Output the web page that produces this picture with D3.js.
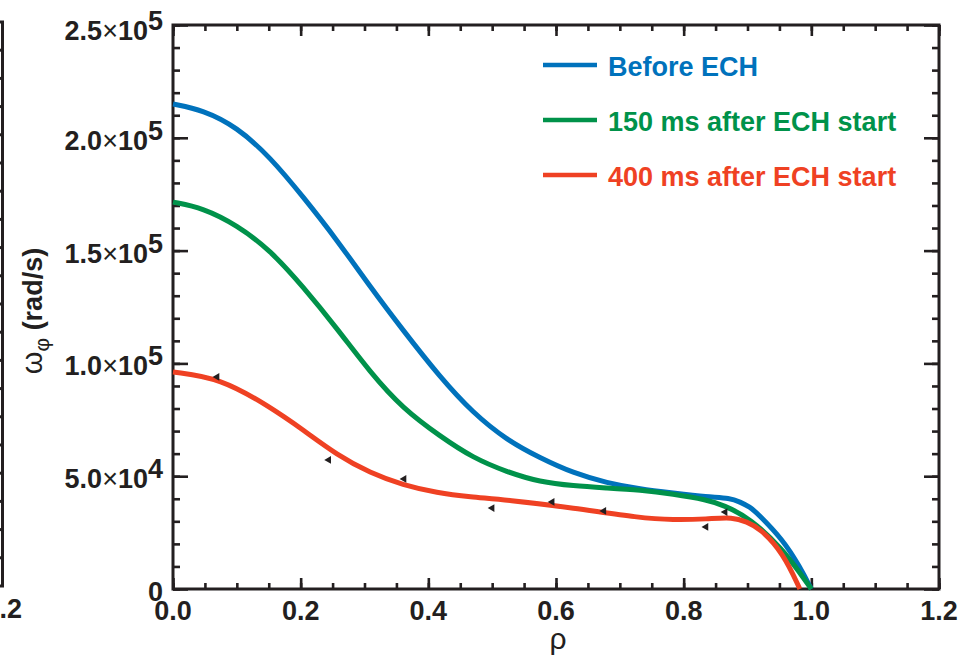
<!DOCTYPE html>
<html><head><meta charset="utf-8">
<script src="https://cdn.jsdelivr.net/npm/d3@7"></script>
<style>body{margin:0;background:#fff}svg{display:block}</style>
</head><body>
<svg id="c" width="973" height="659"></svg>
<script>
// ---- data (omega in units of 1e4 rad/s) ----
const rhoBlue   = [0,0.047,0.100,0.152,0.204,0.257,0.309,0.360,0.418,0.470,0.523,0.575,0.627,0.680,0.732,0.783,0.837,0.873,0.888,0.904,0.915,0.956,0.982,1.0];
const omegaBlue = [21.50,21.23,20.48,19.15,17.38,15.47,13.39,11.48,9.40,7.80,6.60,5.81,5.14,4.70,4.43,4.26,4.08,4.03,3.86,3.63,3.37,2.17,0.98,0];
const rhoGreen   = [0,0.047,0.100,0.152,0.204,0.257,0.309,0.360,0.418,0.470,0.523,0.575,0.627,0.680,0.732,0.783,0.837,0.862,0.904,0.956,0.982,1.0];
const omegaGreen = [17.15,16.89,16.13,15.03,13.39,11.55,9.60,8.00,6.78,5.81,5.19,4.74,4.57,4.48,4.39,4.21,3.95,3.72,3.15,1.73,0.71,0];
const rhoRed   = [0,0.074,0.152,0.204,0.257,0.309,0.360,0.414,0.465,0.523,0.627,0.732,0.783,0.837,0.877,0.899,0.919,0.956,0.982];
const omegaRed = [9.62,9.35,8.07,7.05,5.94,5.14,4.61,4.26,4.08,3.95,3.59,3.15,3.06,3.10,3.19,2.97,2.70,1.60,0];
const rhoMeas   = [0.069,0.244,0.362,0.500,0.594,0.675,0.835,0.865];
const omegaMeas = [9.40,5.72,4.88,3.59,3.86,3.46,2.75,3.41];

const seriesNames  = ["Before ECH","150 ms after ECH start","400 ms after ECH start"];
const seriesColors = ["#0072bc","#00924a","#ef4123"];

const xMajor = [0,0.2,0.4,0.6,0.8,1.0,1.2];
const xLabels = ["0.0","0.2","0.4","0.6","0.8","1.0","1.2"];
const yMajor = [0,5e4,1e5,1.5e5,2e5,2.5e5];
const yMant  = ["0","5.0","1.0","1.5","2.0","2.5"];
const yExp   = [null,"4","5","5","5","5"];

// ---- layout ----
const svg = d3.select("#c");
const FONT = "'Liberation Sans', Arial, Helvetica, sans-serif";
const INK = "#231f20";
const x = d3.scaleLinear().domain([0,1.2]).range([173,939]);
const y = d3.scaleLinear().domain([0,2.5e5]).range([589,25]);
const xMinor = d3.range(0,1.2001,0.05);
const yMinor = d3.range(0,2.5001e5,1e4);

// partial neighbouring panel at left edge
const yl = d3.scaleLinear().domain([0,20]).range([586,22]);
const lp = svg.append("g").attr("stroke",INK).attr("stroke-width",3);
lp.append("path").attr("fill","none").attr("d",`M-6,${yl(20)}H2.5V${yl(0)}H-6`);
lp.selectAll("line.t").data(d3.range(1,20)).join("line")
  .attr("x1",-6).attr("x2",2.5).attr("y1",d=>yl(d)).attr("y2",d=>yl(d));
svg.append("text").attr("x",22).attr("y",618).attr("text-anchor","end")
  .attr("font-family",FONT).attr("font-weight","bold").attr("font-size",27).attr("fill",INK).text("1.2");

// ticks (inward on all sides)
function ax(gen, vals, size, tr){
  const g = svg.append("g").attr("transform",tr)
    .call(gen.tickValues(vals).tickSize(size).tickFormat(""));
  g.select(".domain").remove();
  g.selectAll(".tick line").attr("stroke",INK).attr("stroke-width",2.6);
}
ax(d3.axisBottom(x), xMinor, -6, "translate(0,589)");
ax(d3.axisBottom(x), xMajor, -11, "translate(0,589)");
ax(d3.axisTop(x), xMinor, -6, "translate(0,25)");
ax(d3.axisTop(x), xMajor, -11, "translate(0,25)");
ax(d3.axisLeft(y), yMinor, -7, "translate(173,0)");
ax(d3.axisLeft(y), yMajor, -15, "translate(173,0)");
ax(d3.axisRight(y), yMinor, -7, "translate(939,0)");
ax(d3.axisRight(y), yMajor, -15, "translate(939,0)");

// frame
svg.append("rect").attr("x",173).attr("y",25).attr("width",939-173).attr("height",589-25)
  .attr("fill","none").attr("stroke",INK).attr("stroke-width",3);

// x tick labels
svg.append("g").selectAll("text").data(xMajor).join("text")
  .attr("x",d=>x(d)).attr("y",620).attr("text-anchor","middle")
  .attr("font-family",FONT).attr("font-weight","bold").attr("font-size",27).attr("fill",INK)
  .text((d,i)=>xLabels[i]);

// y tick labels
const yl2 = svg.append("g").selectAll("text").data(yMajor).join("text")
  .attr("x",163).attr("y",(d,i)=>y(d)+(i===yMajor.length-1?15:12)).attr("text-anchor","end")
  .attr("font-family",FONT).attr("font-weight","bold").attr("font-size",27).attr("fill",INK);
yl2.each(function(d,i){
  const t = d3.select(this);
  t.append("tspan").text(yMant[i]);
  if(yExp[i]){
    t.append("tspan").attr("font-weight","normal").text("\u00d7");
    t.append("tspan").text("10");
    t.append("tspan").attr("dy",-10).text(yExp[i]);
  }
});

// axis titles
svg.append("text").attr("x",558).attr("y",649).attr("text-anchor","middle")
  .attr("font-family",FONT).attr("font-size",30).attr("fill",INK).text("\u03c1");
const yt = svg.append("text").attr("transform","translate(42,311) rotate(-90)")
  .attr("text-anchor","middle").attr("font-family",FONT).attr("font-size",27)
  .attr("font-weight","bold").attr("fill",INK);
yt.append("tspan").attr("font-weight","normal").attr("font-size",29).text("\u03c9");
yt.append("tspan").attr("font-weight","normal").attr("font-size",21).attr("dy",7).text("\u03c6");
yt.append("tspan").attr("dy",-7).text(" (rad/s)");

// curves
const line = d3.line().x(d=>x(d[0])).y(d=>y(d[1]*1e4)).curve(d3.curveBasis);
const series = [
  d3.zip(rhoBlue,omegaBlue),
  d3.zip(rhoGreen,omegaGreen),
  d3.zip(rhoRed,omegaRed)
];
svg.append("g").selectAll("path").data(series).join("path")
  .attr("d",line).attr("fill","none")
  .attr("stroke",(d,i)=>seriesColors[i]).attr("stroke-width",5);

// measurement markers (small left-pointing triangles)
svg.append("g").selectAll("path").data(d3.zip(rhoMeas,omegaMeas)).join("path")
  .attr("d",d3.symbol().type(d3.symbolTriangle).size(26))
  .attr("transform",d=>`translate(${x(d[0])},${y(d[1]*1e4)}) rotate(-90)`)
  .attr("fill",INK);

// legend
const lg = svg.append("g").selectAll("g").data(seriesNames).join("g")
  .attr("transform",(d,i)=>`translate(543,${65+i*55})`);
lg.append("line").attr("x1",0).attr("x2",54).attr("y1",0).attr("y2",0)
  .attr("stroke",(d,i)=>seriesColors[i]).attr("stroke-width",4.5);
lg.append("text").attr("x",65).attr("y",11).attr("font-family",FONT).attr("font-weight","bold")
  .attr("font-size",27).attr("fill",(d,i)=>seriesColors[i]).text(d=>d);
</script>
</body></html>
